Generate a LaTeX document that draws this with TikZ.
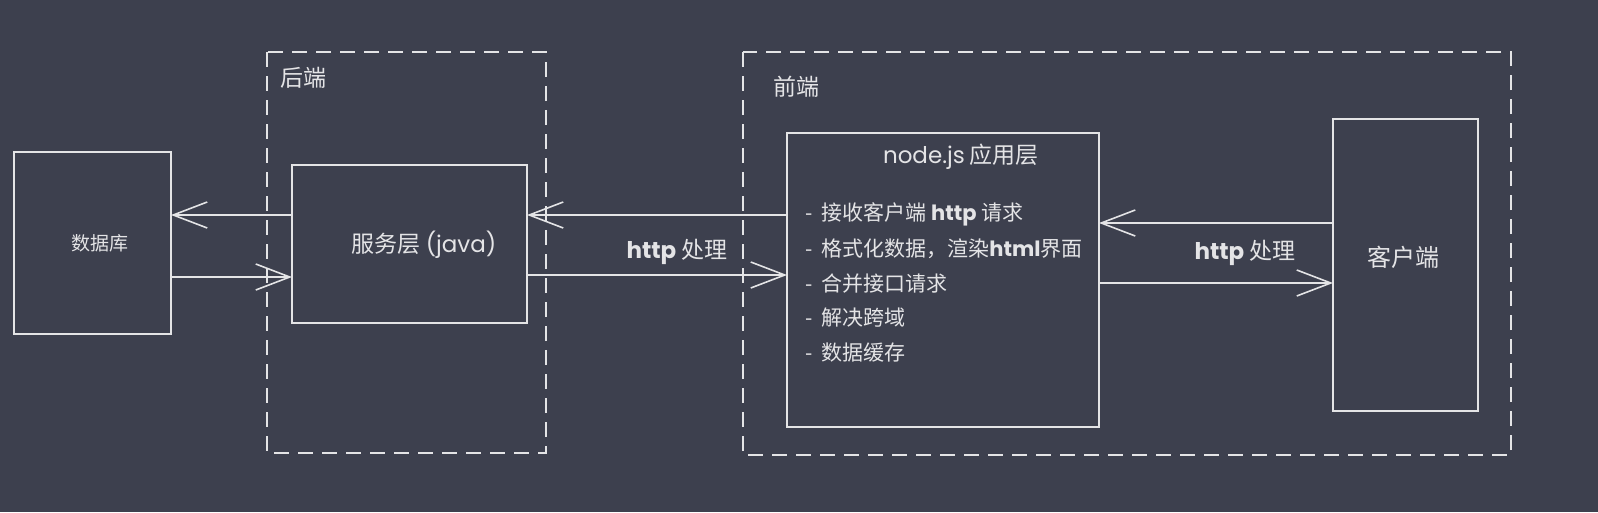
\documentclass[tikz,border=0pt]{standalone}
\usepackage{fontspec}
\setmainfont{Noto Sans CJK SC}
\newfontfamily\hand{Poppins}
\usetikzlibrary{arrows.meta}
\definecolor{bg}{HTML}{3D404E}
\definecolor{ink}{HTML}{E4E4E6}
\tikzset{
  box/.style={draw=ink, line width=1.6pt, inner sep=0pt, outer sep=0pt},
  group/.style={draw=ink, line width=1.5pt, dash pattern=on 15pt off 9pt},
  arr/.style={draw=ink, line width=1.6pt, -{Straight Barb[length=34pt,width=26pt,line width=1.6pt]}},
  txt/.style={text=ink, font=\fontsize{23pt}{26pt}\selectfont, inner sep=0pt},
  item/.style={txt, anchor=west, font=\fontsize{21pt}{24pt}\selectfont},
}
\begin{document}
\begin{tikzpicture}[x=1pt,y=-1pt]
\useasboundingbox (0,0) rectangle (1598,512);
\fill[bg] (0,0) rectangle (1598,512);

% groups
\draw[group] (267,52) rectangle (546,453);
\draw[group] (743,52) rectangle (1511,455);
\node[txt, anchor=west] (be) at (280,78) {后端};
\node[txt, anchor=west] (fe) at (773,87) {前端};

% boxes
\node[box, minimum width=157pt, minimum height=182pt] (db) at (92.5,243) {};
\node[txt, font=\fontsize{19pt}{22pt}\selectfont] (dbt) at (100,243) {数据库};
\node[box, minimum width=235pt, minimum height=158pt] (svc) at (409.5,244) {};
\node[txt] (svct) at (424,245) {服务层 {\hand (java)}};
\node[box, minimum width=312pt, minimum height=294pt] (njs) at (943,280) {};
\node[txt] (njst) at (961,157) {{\hand node.js} 应用层};
\node[box, minimum width=145pt, minimum height=292pt] (cli) at (1405.5,265) {};
\node[txt, font=\fontsize{24pt}{26pt}\selectfont] (clit) at (1403,257) {客户端};

% list
\node[item] (l1) at (805,214) {-\hspace{9pt}接收客户端 {\hand\bfseries http} 请求};
\node[item] (l2) at (805,249) {-\hspace{9pt}格式化数据，渲染{\hand\bfseries html}界面};
\node[item] (l3) at (805,284) {-\hspace{9pt}合并接口请求};
\node[item] (l4) at (805,318) {-\hspace{9pt}解决跨域};
\node[item] (l5) at (805,353) {-\hspace{9pt}数据缓存};

% connectors
\draw[arr] ([yshift=29pt]svc.west) -- ([yshift=29pt]svc.west -| db.east);
\draw[arr] ([yshift=-33pt]svc.west -| db.east) -- ([yshift=-33pt]svc.west);
\draw[arr] ([yshift=29pt]svc.east -| njs.west) -- ([yshift=29pt]svc.east);
\draw[arr] ([yshift=-31pt]svc.east) -- ([yshift=-31pt]svc.east -| njs.west);
\draw[arr] ([yshift=42pt]cli.west) -- ([yshift=42pt]cli.west -| njs.east);
\draw[arr] ([yshift=-18pt]cli.west -| njs.east) -- ([yshift=-18pt]cli.west);

% labels
\node[txt] (h1) at (677,252) {{\hand\bfseries http} 处理};
\node[txt] (h2) at (1245,253) {{\hand\bfseries http} 处理};
\end{tikzpicture}
\end{document}
